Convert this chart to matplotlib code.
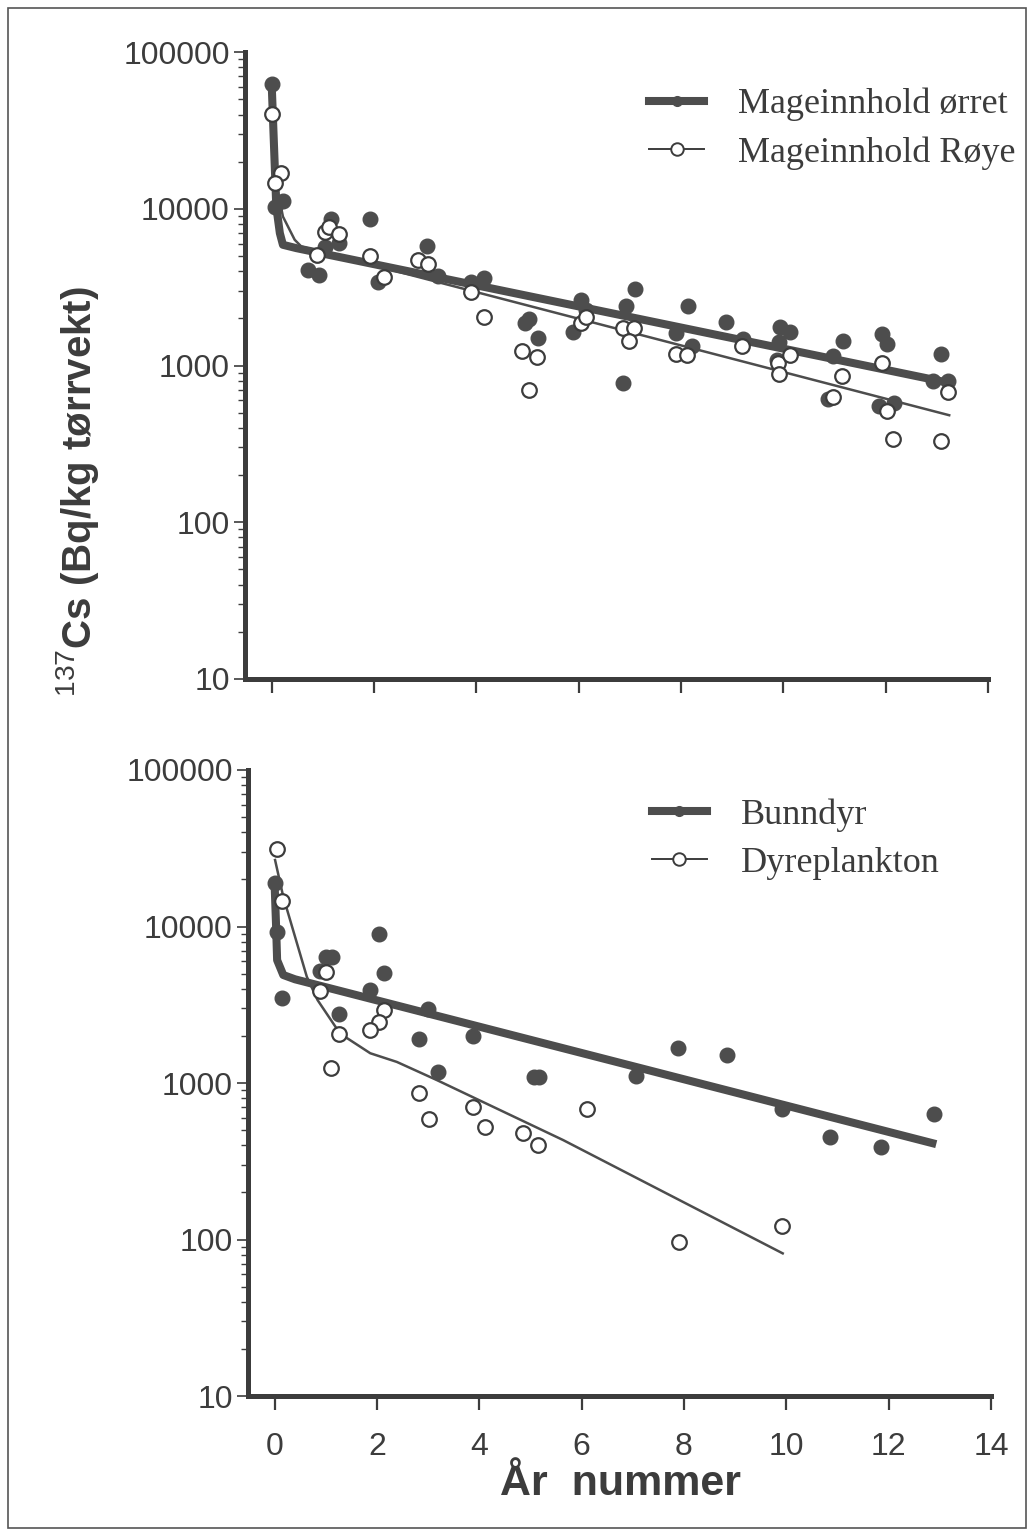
"""137Cs i mageinnhold, bunndyr og dyreplankton – to paneler, log-skala."""

import matplotlib
matplotlib.use("Agg")
import matplotlib.pyplot as plt
from matplotlib.lines import Line2D
from matplotlib.patches import Rectangle
from matplotlib.ticker import LogLocator, NullFormatter, FixedLocator

plt.rcParams["font.family"] = ["Liberation Sans", "DejaVu Sans"]
plt.rcParams["mathtext.fontset"] = "custom"
plt.rcParams["mathtext.rm"] = "Liberation Sans"
plt.rcParams["mathtext.bf"] = "Liberation Sans:bold"

INK = "#3c3c3c"
DOT = "#4d4d4d"

# --- top panel: mageinnhold ---
orret_x = [0.0, 0.06, 0.22, 0.71, 0.92, 1.04, 1.15, 1.31, 1.92, 2.08, 3.04, 3.25,
           3.9, 4.14, 4.95, 5.03, 5.21, 5.88, 6.05, 6.15, 6.93, 7.1, 6.87, 7.9,
           8.13, 8.22, 8.87, 9.21, 9.93, 10.12, 9.91, 9.87, 10.97, 11.16, 10.88,
           11.93, 12.03, 11.87, 12.16, 13.08, 13.22, 12.93]
orret_y = [63000, 10350, 11300, 4090, 3800, 5700, 8600, 6100, 8600, 3440, 5810, 3740,
           3410, 3620, 1870, 1980, 1500, 1630, 2630, 2270, 2390, 3080, 776, 1620,
           2410, 1330, 1900, 1480, 1750, 1630, 1410, 1090, 1150, 1430, 614,
           1580, 1380, 551, 578, 1190, 795, 795]

roye_x = [0.0, 0.19, 0.07, 0.89, 1.04, 1.13, 1.32, 1.92, 2.19, 2.86, 3.06, 3.9,
          4.14, 4.89, 5.18, 5.03, 6.05, 6.14, 6.87, 7.08, 6.98, 7.91, 8.12, 9.19,
          9.9, 10.13, 9.91, 10.97, 11.15, 11.93, 12.03, 12.15, 13.21, 13.08]
roye_y = [40300, 17000, 14700, 5090, 7100, 7700, 6930, 5040, 3650, 4730, 4450, 2970,
          2030, 1230, 1140, 703, 1870, 2030, 1740, 1740, 1440, 1190, 1175, 1330,
          1040, 1160, 877, 630, 863, 1040, 516, 338, 680, 330]

orret_fit_x = [0.0, 0.09, 0.16, 0.22, 0.48, 13.2]
orret_fit_y = [63000, 10350, 7000, 5900, 5620, 780]
roye_fit_x = [0.0, 0.09, 0.22, 0.45, 0.58, 13.24]
roye_fit_y = [40300, 14600, 8930, 6350, 5750, 482]

# --- bottom panel: bunndyr / dyreplankton ---
bunn_x = [0.0, 0.04, 0.15, 0.89, 1.01, 1.12, 2.04, 2.14, 1.87, 1.25, 3.0, 2.83,
          3.87, 3.2, 5.07, 5.17, 7.89, 8.84, 7.06, 9.91, 10.85, 11.85, 12.88]
bunn_y = [18900, 9270, 3510, 5220, 6420, 6420, 8910, 5070, 3930, 2750, 2960, 1910,
          2000, 1170, 1097, 1097, 1667, 1510, 1110, 682, 454, 392, 630]

plank_x = [0.04, 0.15, 1.0, 0.88, 2.14, 2.04, 1.87, 1.25, 1.1, 2.83, 3.02, 3.87,
           4.11, 4.86, 5.15, 6.1, 7.9, 9.92]
plank_y = [31300, 14600, 5100, 3870, 2920, 2440, 2180, 2070, 1240, 865, 585, 698,
           526, 476, 402, 687, 97, 122]

bunn_fit_x = [0.0, 0.03, 0.05, 0.17, 0.4, 12.93]
bunn_fit_y = [19000, 10000, 6100, 4900, 4600, 407]
plank_fit_x = [0.01, 0.17, 0.63, 0.84, 1.28, 1.87, 2.39, 3.17, 5.64, 9.93]
plank_fit_y = [26600, 15500, 4780, 3390, 2070, 1550, 1364, 1045, 432, 81.6]

X_TICKS = [0, 2, 4, 6, 8, 10, 12, 14]
Y_TICKS = [10, 100, 1000, 10000, 100000]


def style_axis(ax, show_xlabels):
    ax.set_yscale("log")
    ax.set_ylim(10, 100000)
    ax.set_xlim(-0.52, 14)
    for side in ("top", "right"):
        ax.spines[side].set_visible(False)
    for side in ("left", "bottom"):
        ax.spines[side].set_linewidth(3.6)
        ax.spines[side].set_color(INK)
    ax.xaxis.set_major_locator(FixedLocator(X_TICKS))
    ax.yaxis.set_major_locator(FixedLocator(Y_TICKS))
    ax.yaxis.set_minor_locator(LogLocator(base=10, subs=range(2, 10)))
    ax.yaxis.set_minor_formatter(NullFormatter())
    ax.set_yticklabels([str(v) for v in Y_TICKS])
    ax.tick_params(axis="y", which="major", direction="out", length=8, width=1.2,
                   color=INK, labelsize=23, labelcolor=INK, pad=3)
    ax.tick_params(axis="y", which="minor", direction="out", length=5, width=1.0, color=INK)
    ax.tick_params(axis="x", which="major", direction="out", length=10, width=1.6,
                   color=INK, labelsize=23, labelcolor=INK, pad=16,
                   labelbottom=show_xlabels)
    ax.set_facecolor("none")


def draw_panel(ax, fx, fy, ox, oy, fit_f, fit_o, labels, anchor):
    ax.plot(fit_f[0], fit_f[1], color=DOT, lw=5.8, solid_capstyle="butt", zorder=2)
    ax.plot(fit_o[0], fit_o[1], color=DOT, lw=1.8, zorder=2)
    ax.plot(fx, fy, ls="none", marker="o", ms=10.5, mfc=DOT, mec=DOT, zorder=3)
    ax.plot(ox, oy, ls="none", marker="o", ms=10.5, mfc="white", mec=INK, mew=1.6, zorder=4)
    handles = [
        Line2D([], [], color=DOT, lw=5.8, marker="o", ms=7, mfc=DOT, mec=DOT),
        Line2D([], [], color=INK, lw=1.4, marker="o", ms=9, mfc="white", mec=INK, mew=1.4),
    ]
    leg = ax.legend(handles, labels, loc="upper left", bbox_to_anchor=anchor,
                    frameon=False, borderpad=0, handlelength=1.5, handletextpad=0.95,
                    labelspacing=0.42, prop={"family": "Liberation Serif", "size": 26})
    for t in leg.get_texts():
        t.set_color(INK)


fig = plt.figure(figsize=(10.34, 15.36), dpi=100)

ax_top = fig.add_axes([0.237, 0.558, 0.7186, 0.408])
style_axis(ax_top, show_xlabels=False)
draw_panel(ax_top, orret_x, orret_y, roye_x, roye_y,
           (orret_fit_x, orret_fit_y), (roye_fit_x, roye_fit_y),
           ["Mageinnhold ørret", "Mageinnhold Røye"], (0.52, 0.972))

ax_bot = fig.add_axes([0.2398, 0.0911, 0.7186, 0.4076])
style_axis(ax_bot, show_xlabels=True)
draw_panel(ax_bot, bunn_x, bunn_y, plank_x, plank_y,
           (bunn_fit_x, bunn_fit_y), (plank_fit_x, plank_fit_y),
           ["Bunndyr", "Dyreplankton"], (0.52, 0.984))

fig.text(0.0754, 0.68, r"$^{137}$Cs (Bq/kg tørrvekt)", rotation=90, ha="center",
         va="center", fontsize=29, fontweight="bold", color=INK)
fig.text(0.6, 0.034, "År  nummer", ha="center", va="center", fontsize=31,
         fontweight="bold", color=INK)

fig.patches.append(Rectangle((0.0077, 0.005), 0.9845, 0.9895, transform=fig.transFigure,
                             fill=False, lw=1.2, edgecolor="#555555"))

fig.savefig("out.png", dpi=100, facecolor="white")
